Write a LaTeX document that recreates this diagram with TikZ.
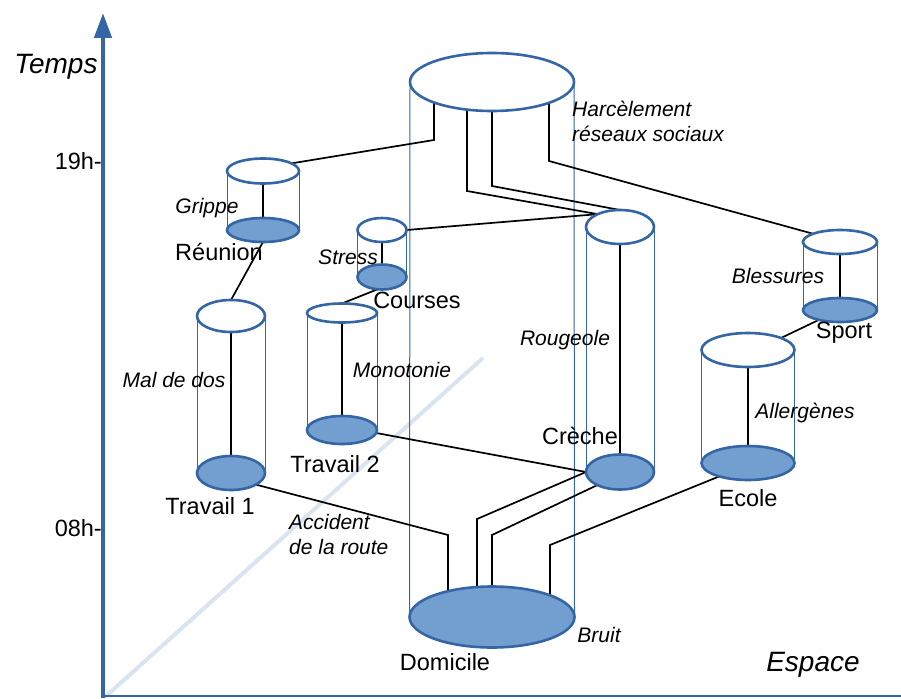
\documentclass[tikz,border=0pt]{standalone}
\usepackage{fontspec}
\setmainfont{Liberation Sans}
\usetikzlibrary{shapes.geometric,arrows.meta,calc}
\pgfdeclarelayer{bg}
\pgfsetlayers{bg,main}
\definecolor{dblue}{RGB}{52,101,164}
\definecolor{lblue}{RGB}{114,159,207}
\definecolor{diagc}{RGB}{218,227,241}
\begin{document}
\begin{tikzpicture}[x=1pt,y=-1pt,
  cyl/.style={ellipse, draw=dblue, line width=2.6pt, inner sep=0pt, outer sep=0pt},
  topel/.style={cyl, fill=white},
  botel/.style={cyl, fill=lblue},
  sz/.style 2 args={minimum width=#1pt, minimum height=#2pt},
  side/.style={draw=dblue, line width=1pt},
  conn/.style={draw=black, line width=1.7pt},
  lab/.style={font=\fontsize{23.5}{28}\selectfont, inner sep=0pt},
  risk/.style={font=\fontsize{21}{25}\selectfont\itshape, inner sep=0pt},
  axlab/.style={font=\fontsize{28}{32}\selectfont\itshape, inner sep=0pt},
]
\useasboundingbox (0,0) rectangle (901,698);

% cylinder ends
\node[topel, sz={164}{58}] (H) at (492,82) {};
\node[botel, sz={165}{61}] (D) at (492,617) {};
\node[topel, sz={68}{34}] (RoT) at (620,227) {};
\node[botel, sz={68}{35}] (RoB) at (620,472) {};
\node[topel, sz={72}{25}] (ReT) at (263,171) {};
\node[botel, sz={72}{24}] (ReB) at (263,230) {};
\node[topel, sz={49}{24}] (StT) at (382,230) {};
\node[botel, sz={49}{25}] (StB) at (382,277) {};
\node[topel, sz={70}{19}] (MoT) at (342,313) {};
\node[botel, sz={70}{28}] (MoB) at (342,430) {};
\node[topel, sz={68}{32}] (TrT) at (231,316) {};
\node[botel, sz={68}{34}] (TrB) at (231,473) {};
\node[topel, sz={74}{24}] (SpT) at (840,242) {};
\node[botel, sz={74}{24}] (SpB) at (840,310) {};
\node[topel, sz={93}{34}] (EcT) at (748,350) {};
\node[botel, sz={93}{34}] (EcB) at (748,463) {};

\coordinate (k1) at (448,535);
\coordinate (k2) at (477,519);
\coordinate (k3) at (492,535);
\coordinate (k4) at (550,545);
\coordinate (ax0) at (103,698);
\coordinate (axT) at (103,13);
\coordinate (axR) at (901,696);
\coordinate (dg0) at (105,697);
\coordinate (dg1) at (483,358);

\begin{pgfonlayer}{bg}
  \draw[diagc, line width=4pt] (dg0) -- (dg1);
  \draw[dblue, line width=2.6pt] (ax0 |- axR) -- (axR);
  \draw[dblue, line width=4.5pt, -{Triangle[width=17pt,length=25pt]}] (ax0) -- (axT);
  % side lines
  \draw[side] (H.west) -- (D.west) (H.east) -- (D.east);
  \foreach \c in {Ro,Re,St,Mo,Tr,Sp,Ec}{
    \draw[side] (\c T.west) -- (\c B.west) (\c T.east) -- (\c B.east);
    \draw[conn] (\c T.center) -- (\c B.center);
  }
  % connectors
  \draw[conn] ($(H.center)+(-58,0)$) -- ++(0,58) -- (ReT.15);
  \draw[conn] ($(H.center)+(-25,0)$) -- ++(0,109) -- (RoT.150);
  \draw[conn] (H.center) -- ++(0,104) -- (RoT.north);
  \draw[conn] ($(H.center)+(57,0)$) -- ++(0,79) -- (SpT.163);
  \draw[conn] (StT.east) -- (RoT.150);
  \draw[conn] (ReB.south) -- (TrT.north);
  \draw[conn] (StB.250) -- (MoT.north);
  \draw[conn] (SpB.205) -- (EcT.20);
  \draw[conn] (MoB.-5) -- (RoB.west);
  \draw[conn] (TrB.-25) -- (k1) |- (D.center);
  \draw[conn] (RoB.west) -- (k2) |- (D.center);
  \draw[conn] (RoB.210) -- (k3) |- (D.center);
  \draw[conn] (EcB.205) -- (k4) |- (D.center);
\end{pgfonlayer}

% axis labels
\node[axlab] (temps) at (56,67) {Temps};
\node[axlab] (espace) at (813,665) {Espace};
\node[lab, anchor=east] (t19) at (102,161) {19h-};
\node[lab, anchor=east] (t08) at (102,528) {08h-};

% place labels
\node[lab] (lre) at (219,252) {Réunion};
\node[lab] (lco) at (417,300) {Courses};
\node[lab] (ltr1) at (210,506) {Travail 1};
\node[lab] (ltr2) at (335,464) {Travail 2};
\node[lab] (lcr) at (580,436) {Crèche};
\node[lab] (lsp) at (844,333) {Sport};
\node[lab] (lec) at (748,498) {Ecole};
\node[lab] (ldo) at (445,662) {Domicile};

% risk labels
\node[risk, anchor=west, align=left] (lha) at (572,121) {Harcèlement\\réseaux sociaux};
\node[risk] (lgr) at (207,208) {Grippe};
\node[risk] (lst) at (348,257) {Stress};
\node[risk] (lma) at (174,380) {Mal de dos};
\node[risk] (lmo) at (402,370) {Monotonie};
\node[risk] (lro) at (565,340) {Rougeole};
\node[risk] (lbl) at (778,276) {Blessures};
\node[risk] (lal) at (805,413) {Allergènes};
\node[risk, anchor=west, align=left] (lac) at (289,534) {Accident\\de la route};
\node[risk] (lbr) at (599,635) {Bruit};
\end{tikzpicture}
\end{document}
